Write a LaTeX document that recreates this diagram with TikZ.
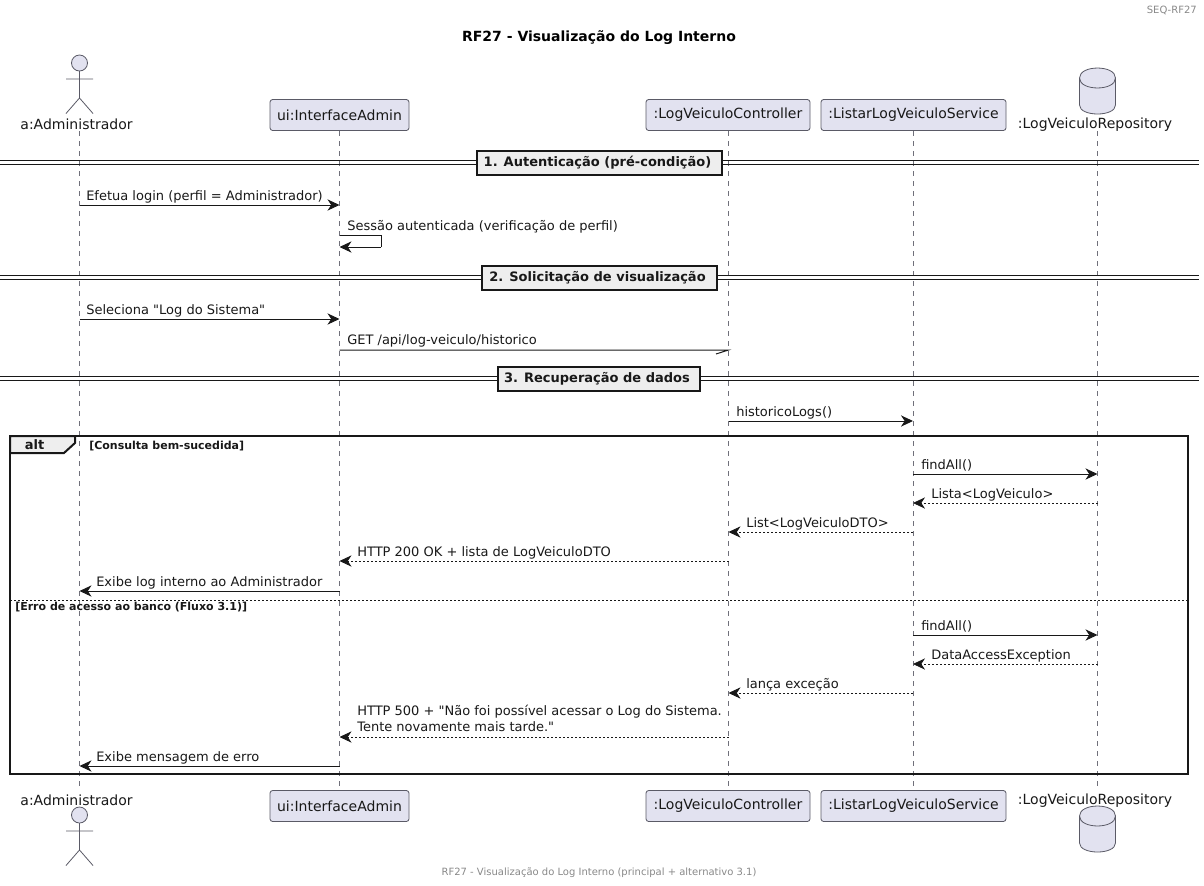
\documentclass[tikz,border=0pt]{standalone}
\usepackage{fontspec}
\setmainfont{DejaVu Sans}[Ligatures=TeXOff]
\usetikzlibrary{arrows.meta,shapes.geometric}
\definecolor{partfill}{HTML}{E2E2F0}
\definecolor{partline}{HTML}{5A5A66}
\definecolor{lifegray}{HTML}{70707A}
\definecolor{ink}{HTML}{181818}
\definecolor{grp}{HTML}{EEEEEE}
\definecolor{footgray}{HTML}{888888}
\newcommand{\fs}[2]{\fontsize{#1}{#2}\selectfont}
\tikzset{
  x=0.75pt,y=-0.75pt,
  part/.style={draw=partline,fill=partfill,rounded corners=2pt,line width=0.6pt,minimum height=23.25pt,inner sep=0pt,text=ink,font=\fs{10.5}{12}},
  plabel/.style={text=ink,font=\fs{10.5}{12},inner sep=0pt},
  life/.style={draw=lifegray,line width=0.5pt,dash pattern=on 3.75pt off 3.75pt},
  actorline/.style={draw=partline,line width=0.6pt},
  shead/.style={-{Stealth[length=9pt,width=8.4pt,inset=2.8pt]}},
  msg/.style={draw=ink,line width=0.75pt,shead},
  ret/.style={draw=ink,line width=0.6pt,dash pattern=on 1.5pt off 1.5pt,shead},
  half/.style={draw=ink,line width=0.6pt},
  mtxt/.style={text=ink,font=\fs{9.75}{11.8},inner sep=0pt,anchor=base west,align=left},
  div/.style={draw=ink,line width=0.75pt},
  divbox/.style={draw=ink,fill=grp,line width=1.5pt,font=\bfseries\fs{9.75}{12},text=ink,inner sep=0pt,minimum height=18pt},
  frameb/.style={draw=ink,line width=1.5pt},
  guard/.style={text=ink,font=\bfseries\fs{8.25}{10},inner sep=0pt,anchor=base west},
}
\newcommand{\actorfig}[2]{%
  \draw[actorline,fill=partfill] (#1,#2) circle (8);
  \draw[actorline] (#1,#2+8) -- (#1,#2+35) (#1-13.5,#2+16) -- (#1+13.5,#2+16)
    (#1-13.5,#2+50.5) -- (#1,#2+35) -- (#1+13.5,#2+50.5);}
\newcommand{\dbfig}[2]{%
  \draw[actorline,fill=partfill] (#1-18,#2+10) .. controls (#1-18,#2-3.3) and (#1+18,#2-3.3) .. (#1+18,#2+10)
    -- (#1+18,#2+37) .. controls (#1+18,#2+49) and (#1-18,#2+49) .. (#1-18,#2+37) -- cycle;
  \draw[actorline] (#1-18,#2+10) .. controls (#1-18,#2+23.3) and (#1+18,#2+23.3) .. (#1+18,#2+10);}
\newcommand{\msgl}[3]{\draw[msg] (#1 |- 0,#3) -- (#2 |- 0,#3);}
\newcommand{\retl}[3]{\draw[ret] (#1 |- 0,#3) -- (#2 |- 0,#3);}
\begin{document}
\begin{tikzpicture}
\useasboundingbox (0,0) rectangle (1204,886);
% lifeline anchors
\coordinate (xa) at (79.5,0);
\coordinate (xu) at (339.5,0);
\coordinate (xc) at (728.5,0);
\coordinate (xs) at (913,0);
\coordinate (xr) at (1097.5,0);
% header/footer/title
\node[anchor=east,text=footgray,font=\fs{7.5}{9},inner sep=0pt] (hdr) at (1197,10.5) {SEQ-RF27};
\node[text=black,font=\bfseries\fs{10.5}{12},inner sep=0pt] (ttl) at (599,37.5) {RF27 - Visualização do Log Interno};
\node[text=footgray,font=\fs{7.5}{9},inner sep=0pt] (ftr) at (599,873) {RF27 - Visualização do Log Interno (principal + alternativo 3.1)};
% lifelines
\foreach \k in {xa,xu,xc,xs,xr} \draw[life] (\k |- 0,131) -- (\k |- 0,790);
% dividers
\foreach \n/\y/\t/\xl/\xr in {d1/162.5/{1. Autenticação (pré-condição)}/477/722,d2/277.5/{2. Solicitação de visualização}/482/717,d3/378.5/{3. Recuperação de dados}/498/700}{
  \draw[div] (0,\y-1.7) -- (1199,\y-1.7) (0,\y+1.7) -- (1199,\y+1.7);
  \node[divbox,minimum width=(\xr-\xl)*0.75pt] (\n) at ({(\xl+\xr)/2},\y) {\raisebox{-1.5pt}{\t}\hspace*{3pt}};
}
% top participants
\actorfig{79.5}{63}
\node[plabel] (a1) at (76.5,124) {a:Administrador};
\node[part,minimum width=104.25pt] (u1) at (339.5,115) {ui:InterfaceAdmin};
\node[part,minimum width=123pt] (c1) at (728,115) {:LogVeiculoController};
\node[part,minimum width=138.75pt] (s1) at (913.5,115) {:ListarLogVeiculoService};
\dbfig{1097.5}{68}
\node[plabel] (r1) at (1095,124.5) {:LogVeiculoRepository};
% bottom participants
\node[plabel] (a2) at (76.5,800) {a:Administrador};
\actorfig{79.5}{815}
\node[part,minimum width=104.25pt] (u2) at (339.5,806) {ui:InterfaceAdmin};
\node[part,minimum width=123pt] (c2) at (728,806) {:LogVeiculoController};
\node[part,minimum width=138.75pt] (s2) at (913.5,806) {:ListarLogVeiculoService};
\node[plabel] (r2) at (1095,800.5) {:LogVeiculoRepository};
\dbfig{1097.5}{806}
% messages
\msgl{xa}{xu}{205}
\node[mtxt] (m1) at (86,200) {Efetua login (perfil = Administrador)};
\draw[draw=ink,line width=0.75pt] (xu |- 0,235) -- (381,235) -- (381,247);
\draw[msg] (381,247) -- (xu |- 0,247);
\node[mtxt] (m2) at (347,230) {Sessão autenticada (verificação de perfil)};
\msgl{xa}{xu}{319}
\node[mtxt] (m3) at (86,314) {Seleciona "Log do Sistema"};
\draw[half,line width=0.75pt] (xu |- 0,350) -- (xc |- 0,350) -- (716,354);
\node[mtxt] (m4) at (347,344) {GET /api/log-veiculo/historico};
\msgl{xc}{xs}{421}
\node[mtxt] (m5) at (736,416) {historicoLogs()};
% alt frame
\draw[frameb,fill=grp] (10,436) -- (75,436) -- (75,443) -- (64,453) -- (10,453) -- cycle;
\draw[frameb] (10,436) rectangle (1188,774);
\node[text=ink,font=\bfseries\fs{9.75}{12},inner sep=0pt] (alt) at (34.5,445) {alt};
\node[guard] (g1) at (89,449.5) {[Consulta bem-sucedida]};
\msgl{xs}{xr}{474}
\node[mtxt] (m6) at (921,469) {findAll()};
\retl{xr}{xs}{503}
\node[mtxt] (m7) at (931,498) {Lista<LogVeiculo>};
\retl{xs}{xc}{532}
\node[mtxt] (m8) at (746,527) {List<LogVeiculoDTO>};
\retl{xc}{xu}{561}
\node[mtxt] (m9) at (357,556) {HTTP 200 OK + lista de LogVeiculoDTO};
\msgl{xu}{xa}{591}
\node[mtxt] (m10) at (96,586) {Exibe log interno ao Administrador};
\draw[draw=ink,line width=0.6pt,dash pattern=on 1.5pt off 1.5pt] (10,600.5) -- (1188,600.5);
\node[guard] (g2) at (15,610.5) {[Erro de acesso ao banco (Fluxo 3.1)]};
\msgl{xs}{xr}{635}
\node[mtxt] (m11) at (921,630) {findAll()};
\retl{xr}{xs}{664}
\node[mtxt] (m12) at (931,659) {DataAccessException};
\retl{xs}{xc}{693}
\node[mtxt] (m13) at (746,688) {lança exceção};
\retl{xc}{xu}{737}
\node[mtxt,anchor=north west] (m14) at (357,705) {HTTP 500 + "Não foi possível acessar o Log do Sistema.\\Tente novamente mais tarde."};
\msgl{xu}{xa}{766}
\node[mtxt] (m15) at (96,761) {Exibe mensagem de erro};
\end{tikzpicture}
\end{document}
